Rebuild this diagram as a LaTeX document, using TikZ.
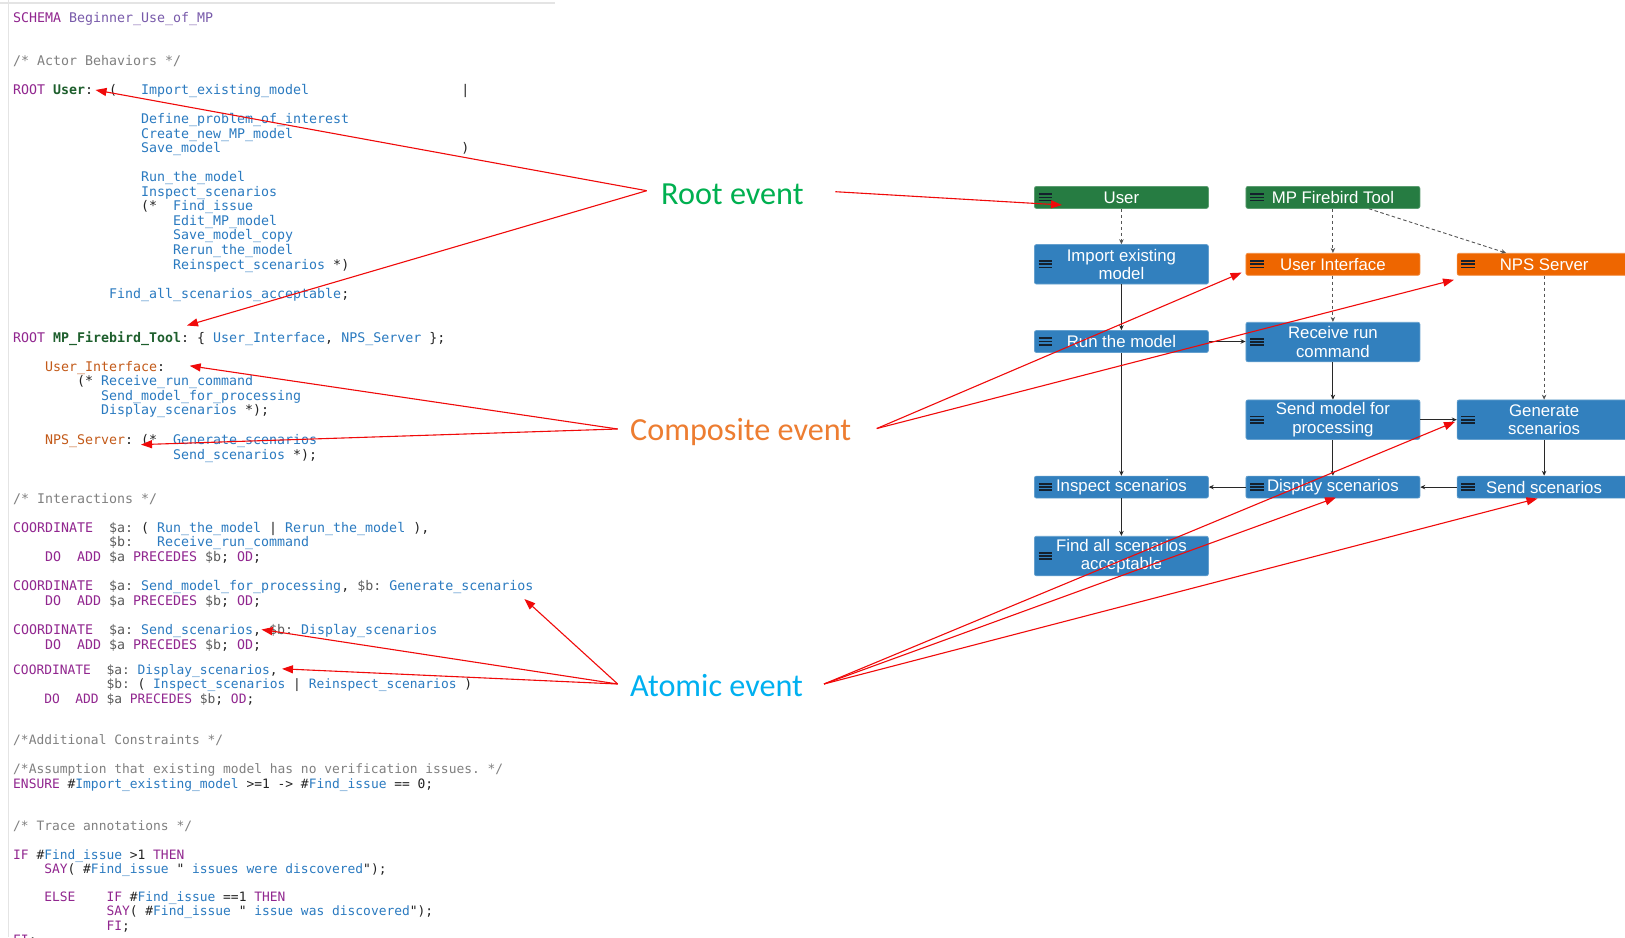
\documentclass[tikz,border=0pt]{standalone}
\usepackage{fontspec}
\setmonofont{DejaVu Sans Mono}
\newfontfamily\boxfam{Liberation Sans}
\newfontfamily\lblfam{Carlito}
\usetikzlibrary{arrows.meta}
\definecolor{kwc}{RGB}{145,38,143}
\definecolor{snc}{RGB}{120,90,170}
\definecolor{cmc}{RGB}{128,128,128}
\definecolor{evc}{RGB}{42,122,192}
\definecolor{rtc}{RGB}{30,95,45}
\definecolor{cpc}{RGB}{195,90,25}
\definecolor{vrc}{RGB}{90,90,90}
\definecolor{txc}{RGB}{35,35,35}
\definecolor{boxblue}{RGB}{50,128,190}
\definecolor{boxgreen}{RGB}{38,124,66}
\definecolor{boxorange}{RGB}{238,102,0}
\definecolor{iconc}{RGB}{20,32,45}
\definecolor{solc}{RGB}{40,40,40}
\definecolor{dshc}{RGB}{85,85,85}
\definecolor{redc}{RGB}{240,10,10}
\definecolor{lblgreen}{RGB}{0,176,80}
\definecolor{lblorange}{RGB}{237,125,49}
\definecolor{lblblue}{RGB}{0,176,240}
\definecolor{framec}{RGB}{228,228,228}
\newcommand\codeA{\ttfamily\fontsize{13.29pt}{14.5pt}\selectfont\frenchspacing}
\newcommand\codeB{\ttfamily\fontsize{12.92pt}{14.5pt}\selectfont\frenchspacing}
\newcommand\xkw[1]{\textcolor{kwc}{#1}}
\newcommand\xsn[1]{\textcolor{snc}{#1}}
\newcommand\xcm[1]{\textcolor{cmc}{#1}}
\newcommand\xev[1]{\textcolor{evc}{#1}}
\newcommand\xrt[1]{\textcolor{rtc}{\bfseries #1}}
\newcommand\xcp[1]{\textcolor{cpc}{#1}}
\newcommand\xvr[1]{\textcolor{vrc}{#1}}
\newcommand\xs[1]{\hskip#1\fontcharwd\font`M\relax}
\newcommand\xdo{\xs4\xkw{DO}\xs2\xkw{ADD}\xs1\xvr{\$a}\xs1\xkw{PRECEDES}\xs1\xvr{\$b};\xs1\xkw{OD};}
\begin{document}
\begin{tikzpicture}[x=1pt,y=-1pt,
  code/.style={anchor=base west, inner sep=0pt, font=\codeA, text=txc},
  codeb/.style={code, font=\codeB},
  box/.style={rectangle, rounded corners=2pt, minimum width=174pt, inner sep=0pt, text=white,
    font=\boxfam\fontsize{16.8pt}{18.6pt}\selectfont, align=center, line width=0.7pt},
  bluebox/.style={box, fill=boxblue, draw=boxblue!75!white},
  greenbox/.style={box, fill=boxgreen, draw=boxgreen!75!white},
  orangebox/.style={box, fill=boxorange, draw=boxorange!75!white},
  oneline/.style={minimum height=22pt},
  twoline/.style={minimum height=39.5pt},
  sol/.style={draw=solc, line width=0.9pt, -{Stealth[length=5pt,width=4.5pt]}},
  dsh/.style={draw=dshc, line width=0.9pt, dash pattern=on 3.5pt off 2.5pt, -{Stealth[length=5pt,width=4.5pt]}},
  redarrow/.style={draw=redc, line width=1.1pt, -{Triangle[length=11pt,width=8pt]}},
  lbl/.style={anchor=base west, inner sep=0pt, font=\lblfam\fontsize{32.2pt}{36pt}\selectfont},
  icon/.style={draw=iconc, line width=1.7pt}]
\useasboundingbox (0,0) rectangle (1625,937);
\clip (0,0) rectangle (1625,937);
\fill[white] (0,0) rectangle (1625,937);
% frame lines
\draw[framec, line width=1.5pt] (8.5,0) -- (8.5,937);
\draw[framec, line width=1.5pt] (0,3) -- (555,3);
% code text
\node[code] (c1) at (13,22) {\xkw{SCHEMA}\xs1\xsn{Beginner\_Use\_of\_MP}};
\node[code] (c2) at (13,65.5) {\xcm{/* Actor Behaviors */}};
\node[code] (c3) at (13,94.5) {\xkw{ROOT}\xs1\xrt{User}:\xs2(\xs3\xev{Import\_existing\_model}\xs{19}|};
\node[code] (c4) at (13,123.5) {\xs{16}\xev{Define\_problem\_of\_interest}};
\node[code] (c5) at (13,138) {\xs{16}\xev{Create\_new\_MP\_model}};
\node[code] (c6) at (13,152.5) {\xs{16}\xev{Save\_model}\xs{30})};
\node[code] (c7) at (13,181.5) {\xs{16}\xev{Run\_the\_model}};
\node[code] (c8) at (13,196) {\xs{16}\xev{Inspect\_scenarios}};
\node[code] (c9) at (13,210.5) {\xs{16}(*\xs2\xev{Find\_issue}};
\node[code] (c10) at (13,225) {\xs{20}\xev{Edit\_MP\_model}};
\node[code] (c11) at (13,239.5) {\xs{20}\xev{Save\_model\_copy}};
\node[code] (c12) at (13,254) {\xs{20}\xev{Rerun\_the\_model}};
\node[code] (c13) at (13,269) {\xs{20}\xev{Reinspect\_scenarios}\xs1*)};
\node[code] (c14) at (13,298.5) {\xs{12}\xev{Find\_all\_scenarios\_acceptable};};
\node[code] (c15) at (13,342.5) {\xkw{ROOT}\xs1\xrt{MP\_Firebird\_Tool}:\xs1\{\xs1\xev{User\_Interface},\xs1\xev{NPS\_Server}\xs1\};};
\node[code] (c16) at (13,371.5) {\xs4\xcp{User\_Interface}:};
\node[code] (c17) at (13,385.5) {\xs8(*\xs1\xev{Receive\_run\_command}};
\node[code] (c18) at (13,400.5) {\xs{11}\xev{Send\_model\_for\_processing}};
\node[code] (c19) at (13,414.5) {\xs{11}\xev{Display\_scenarios}\xs1*);};
\node[code] (c20) at (13,444.5) {\xs4\xcp{NPS\_Server}:\xs1(*\xs2\xev{Generate\_scenarios}};
\node[code] (c21) at (13,459) {\xs{20}\xev{Send\_scenarios}\xs1*);};
\node[code] (c22) at (13,503) {\xcm{/* Interactions */}};
\node[code] (c23) at (13,532) {\xkw{COORDINATE}\xs2\xvr{\$a:}\xs1(\xs1\xev{Run\_the\_model}\xs1|\xs1\xev{Rerun\_the\_model}\xs1),};
\node[code] (c24) at (13,546.5) {\xs{12}\xvr{\$b:}\xs3\xev{Receive\_run\_command}};
\node[code] (c25) at (13,561) {\xdo};
\node[code] (c26) at (13,590) {\xkw{COORDINATE}\xs2\xvr{\$a:}\xs1\xev{Send\_model\_for\_processing},\xs1\xvr{\$b:}\xs1\xev{Generate\_scenarios}};
\node[code] (c27) at (13,605) {\xdo};
\node[code] (c28) at (13,634.5) {\xkw{COORDINATE}\xs2\xvr{\$a:}\xs1\xev{Send\_scenarios},\xs1\xvr{\$b:}\xs1\xev{Display\_scenarios}};
\node[code] (c29) at (13,649) {\xdo};
\node[codeb] (c30) at (13,674) {\xkw{COORDINATE}\xs2\xvr{\$a:}\xs1\xev{Display\_scenarios},};
\node[codeb] (c31) at (13,688.5) {\xs{12}\xvr{\$b:}\xs1(\xs1\xev{Inspect\_scenarios}\xs1|\xs1\xev{Reinspect\_scenarios}\xs1)};
\node[codeb] (c32) at (13,703) {\xdo};
\node[codeb] (c33) at (13,744.5) {\xcm{/*Additional Constraints */}};
\node[codeb] (c34) at (13,773.5) {\xcm{/*Assumption that existing model has no verification issues. */}};
\node[codeb] (c35) at (13,788) {\xkw{ENSURE}\xs1\#\xev{Import\_existing\_model}\xs1>=1\xs1->\xs1\#\xev{Find\_issue}\xs1==\xs{1}0;};
\node[codeb] (c36) at (13,830.5) {\xcm{/* Trace annotations */}};
\node[codeb] (c37) at (13,859.5) {\xkw{IF}\xs1\#\xev{Find\_issue}\xs1>1\xs1\xkw{THEN}};
\node[codeb] (c38) at (13,873) {\xs4\xkw{SAY}(\xs1\#\xev{Find\_issue}\xs1"\xev{\xs1issues were discovered}");};
\node[codeb] (c39) at (13,901) {\xs4\xkw{ELSE}\xs4\xkw{IF}\xs1\#\xev{Find\_issue}\xs1==1\xs1\xkw{THEN}};
\node[codeb] (c40) at (13,915.5) {\xs{12}\xkw{SAY}(\xs1\#\xev{Find\_issue}\xs1"\xev{\xs1issue was discovered}");};
\node[codeb] (c41) at (13,930) {\xs{12}\xkw{FI};};
\node[codeb] (c42) at (13,944.5) {\xkw{FI};};
% diagram boxes
\node[greenbox, oneline] (user) at (1121.4,197.4) {User};
\node[greenbox, oneline] (mpf) at (1332.9,197.4) {MP Firebird Tool};
\node[bluebox, twoline] (imp) at (1121.4,264.3) {Import existing\\model};
\node[orangebox, oneline] (ui) at (1332.9,264.3) {User Interface};
\node[orangebox, oneline] (nps) at (1544.1,264.3) {NPS Server};
\node[bluebox, oneline] (run) at (1121.4,341.5) {Run the model};
\node[bluebox, twoline] (rrc) at (1332.9,342) {Receive run\\command};
\node[bluebox, twoline] (smp) at (1332.9,419.7) {Send model for\\processing};
\node[bluebox, twoline] (gen) at (1544.1,419.7) {Generate\\scenarios};
\node[bluebox, oneline] (insp) at (1121.4,487.1) {Inspect scenarios};
\node[bluebox, oneline] (disp) at (1332.9,487.1) {Display scenarios};
\node[bluebox, oneline] (send) at (1544.1,487.1) {Send scenarios};
\node[bluebox, twoline] (fin) at (1121.4,556) {Find all scenarios\\acceptable};
% hamburger icons
\foreach \n in {user,mpf,imp,ui,nps,run,rrc,smp,gen,insp,disp,send,fin}{
  \foreach \dy in {3.2,0,-3.2}{
    \draw[icon] ([xshift=4.5pt,yshift=\dy pt]\n.west) -- ++(13.5,0);
  }
}
% connectors
\draw[dsh] (user) -- (imp);
\draw[dsh] (mpf) -- (ui);
\draw[dsh] ([xshift=36pt]mpf.south) -- ([xshift=-38pt]nps.north);
\draw[dsh] (ui) -- (rrc);
\draw[dsh] (nps) -- (gen);
\draw[sol] (imp) -- (run);
\draw[sol] (run.east) -- (run.east -| rrc.west);
\draw[sol] (run) -- (insp);
\draw[sol] (rrc) -- (smp);
\draw[sol] (smp) -- (gen);
\draw[sol] (smp) -- (disp);
\draw[sol] (gen) -- (send);
\draw[sol] (send) -- (disp);
\draw[sol] (disp) -- (insp);
\draw[sol] (insp) -- (fin);
% labels
\node[lbl, text=lblgreen] (rootlbl) at (661,204) {Root event};
\node[lbl, text=lblorange] (complbl) at (630,440.5) {Composite event};
\node[lbl, text=lblblue] (atomlbl) at (630,696.5) {Atomic event};
% annotation points
\coordinate (rootA) at (646.7,190.7);
\coordinate (rootB) at (835.3,191.7);
\coordinate (compA) at (617.7,429);
\coordinate (compB) at (876.8,428.5);
\coordinate (atA) at (617.7,684);
\coordinate (atB) at (824,684);
\coordinate (tUser) at (95.5,90);
\coordinate (tMPF) at (187,325.5);
\coordinate (tUserBox) at (1062,205);
\coordinate (tUI) at (189.7,365.8);
\coordinate (tNPS) at (141,444.6);
\coordinate (tUIbox) at (1241.6,272.6);
\coordinate (tNPSbox) at (1454,279.8);
\coordinate (tGen) at (524.4,599);
\coordinate (tSend) at (261.5,629.5);
\coordinate (tDisp) at (282,668.8);
\coordinate (tGenBox) at (1455,421.8);
\coordinate (tDispBox) at (1336,497.5);
\coordinate (tSendBox) at (1537.5,498.5);
% red annotation arrows
\draw[redarrow] (rootA) -- (tUser);
\draw[redarrow] (rootA) -- (tMPF);
\draw[redarrow] (rootB) -- (tUserBox);
\draw[redarrow] (compA) -- (tUI);
\draw[redarrow] (compA) -- (tNPS);
\draw[redarrow] (compB) -- (tUIbox);
\draw[redarrow] (compB) -- (tNPSbox);
\draw[redarrow] (atA) -- (tGen);
\draw[redarrow] (atA) -- (tSend);
\draw[redarrow] (atA) -- (tDisp);
\draw[redarrow] (atB) -- (tGenBox);
\draw[redarrow] (atB) -- (tDispBox);
\draw[redarrow] (atB) -- (tSendBox);
\end{tikzpicture}
\end{document}
